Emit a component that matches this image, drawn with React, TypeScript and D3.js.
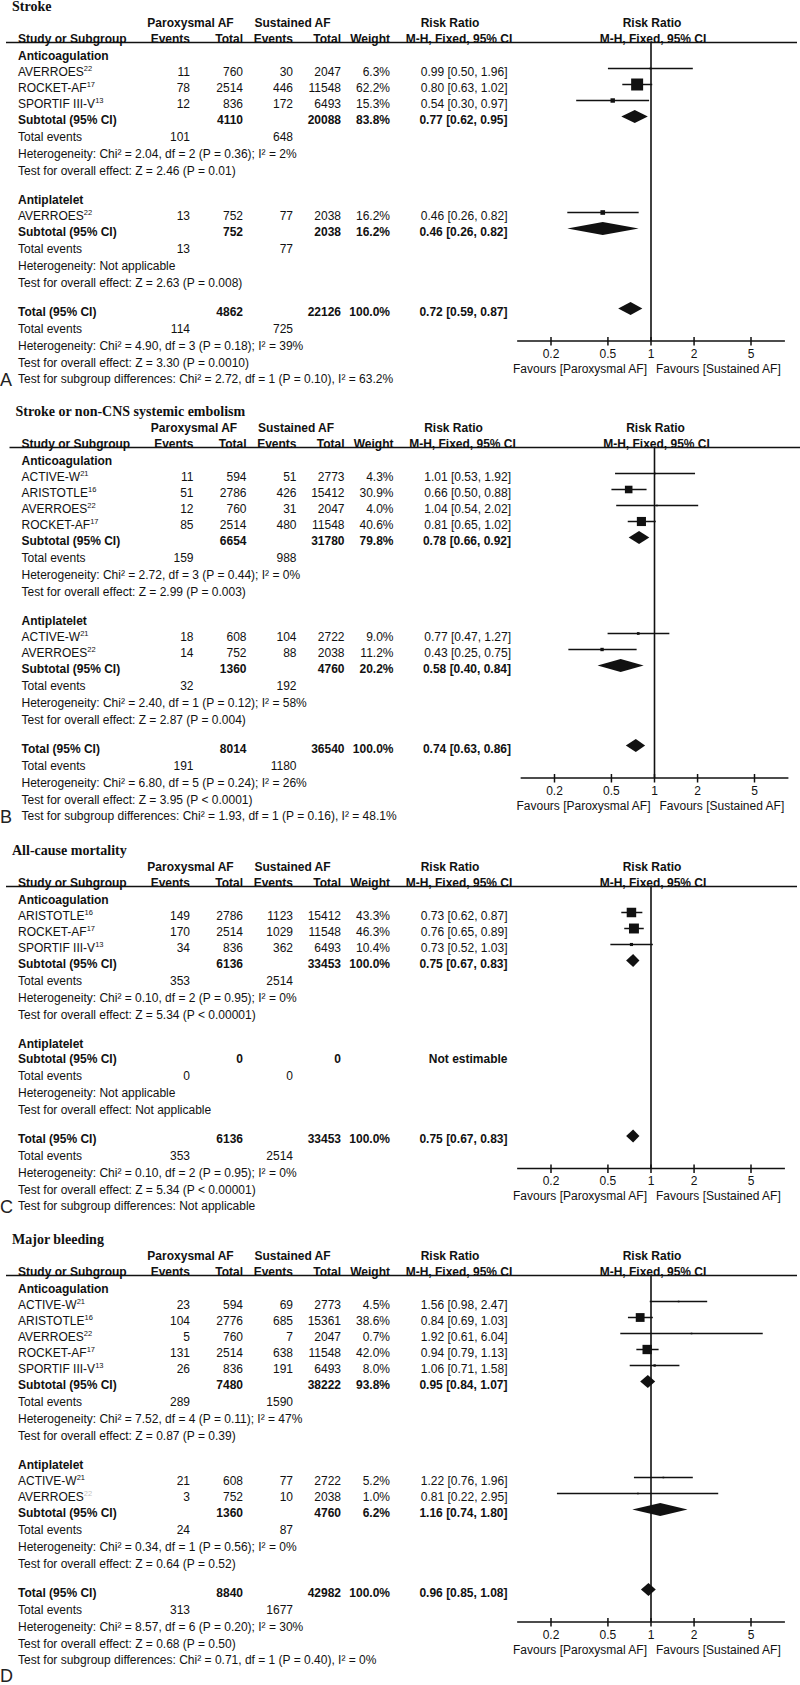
import React from "react";
import * as d3 from "d3";

type Study = { name: string; ref: string; e1: number; n1: number; e2: number; n2: number; w: number; rr: number; lo: number; hi: number; faintRef?: boolean };
type Sub = { n1: number; n2: number; w: number | null; rr: number | null; lo: number | null; hi: number | null; te1: number; te2: number; het: string; test: string };

// ---------- Panel A: Stroke ----------
const strokeAnticoag: Study[] = [
  { name: "AVERROES", ref: "22", e1: 11, n1: 760, e2: 30, n2: 2047, w: 6.3, rr: 0.99, lo: 0.5, hi: 1.96 },
  { name: "ROCKET-AF", ref: "17", e1: 78, n1: 2514, e2: 446, n2: 11548, w: 62.2, rr: 0.8, lo: 0.63, hi: 1.02 },
  { name: "SPORTIF III-V", ref: "13", e1: 12, n1: 836, e2: 172, n2: 6493, w: 15.3, rr: 0.54, lo: 0.3, hi: 0.97 },
];
const strokeAnticoagSub: Sub = { n1: 4110, n2: 20088, w: 83.8, rr: 0.77, lo: 0.62, hi: 0.95, te1: 101, te2: 648,
  het: "Heterogeneity: Chi² = 2.04, df = 2 (P = 0.36); I² = 2%", test: "Test for overall effect: Z = 2.46 (P = 0.01)" };
const strokeAntiplatelet: Study[] = [
  { name: "AVERROES", ref: "22", e1: 13, n1: 752, e2: 77, n2: 2038, w: 16.2, rr: 0.46, lo: 0.26, hi: 0.82 },
];
const strokeAntiplateletSub: Sub = { n1: 752, n2: 2038, w: 16.2, rr: 0.46, lo: 0.26, hi: 0.82, te1: 13, te2: 77,
  het: "Heterogeneity: Not applicable", test: "Test for overall effect: Z = 2.63 (P = 0.008)" };
const strokeTotal: Sub = { n1: 4862, n2: 22126, w: 100.0, rr: 0.72, lo: 0.59, hi: 0.87, te1: 114, te2: 725,
  het: "Heterogeneity: Chi² = 4.90, df = 3 (P = 0.18); I² = 39%", test: "Test for overall effect: Z = 3.30 (P = 0.0010)" };
const strokeSubgroupTest = "Test for subgroup differences: Chi² = 2.72, df = 1 (P = 0.10), I² = 63.2%";

// ---------- Panel B: Stroke or non-CNS systemic embolism ----------
const embolAnticoag: Study[] = [
  { name: "ACTIVE-W", ref: "21", e1: 11, n1: 594, e2: 51, n2: 2773, w: 4.3, rr: 1.01, lo: 0.53, hi: 1.92 },
  { name: "ARISTOTLE", ref: "16", e1: 51, n1: 2786, e2: 426, n2: 15412, w: 30.9, rr: 0.66, lo: 0.5, hi: 0.88 },
  { name: "AVERROES", ref: "22", e1: 12, n1: 760, e2: 31, n2: 2047, w: 4.0, rr: 1.04, lo: 0.54, hi: 2.02 },
  { name: "ROCKET-AF", ref: "17", e1: 85, n1: 2514, e2: 480, n2: 11548, w: 40.6, rr: 0.81, lo: 0.65, hi: 1.02 },
];
const embolAnticoagSub: Sub = { n1: 6654, n2: 31780, w: 79.8, rr: 0.78, lo: 0.66, hi: 0.92, te1: 159, te2: 988,
  het: "Heterogeneity: Chi² = 2.72, df = 3 (P = 0.44); I² = 0%", test: "Test for overall effect: Z = 2.99 (P = 0.003)" };
const embolAntiplatelet: Study[] = [
  { name: "ACTIVE-W", ref: "21", e1: 18, n1: 608, e2: 104, n2: 2722, w: 9.0, rr: 0.77, lo: 0.47, hi: 1.27 },
  { name: "AVERROES", ref: "22", e1: 14, n1: 752, e2: 88, n2: 2038, w: 11.2, rr: 0.43, lo: 0.25, hi: 0.75 },
];
const embolAntiplateletSub: Sub = { n1: 1360, n2: 4760, w: 20.2, rr: 0.58, lo: 0.4, hi: 0.84, te1: 32, te2: 192,
  het: "Heterogeneity: Chi² = 2.40, df = 1 (P = 0.12); I² = 58%", test: "Test for overall effect: Z = 2.87 (P = 0.004)" };
const embolTotal: Sub = { n1: 8014, n2: 36540, w: 100.0, rr: 0.74, lo: 0.63, hi: 0.86, te1: 191, te2: 1180,
  het: "Heterogeneity: Chi² = 6.80, df = 5 (P = 0.24); I² = 26%", test: "Test for overall effect: Z = 3.95 (P < 0.0001)" };
const embolSubgroupTest = "Test for subgroup differences: Chi² = 1.93, df = 1 (P = 0.16), I² = 48.1%";

// ---------- Panel C: All-cause mortality ----------
const mortAnticoag: Study[] = [
  { name: "ARISTOTLE", ref: "16", e1: 149, n1: 2786, e2: 1123, n2: 15412, w: 43.3, rr: 0.73, lo: 0.62, hi: 0.87 },
  { name: "ROCKET-AF", ref: "17", e1: 170, n1: 2514, e2: 1029, n2: 11548, w: 46.3, rr: 0.76, lo: 0.65, hi: 0.89 },
  { name: "SPORTIF III-V", ref: "13", e1: 34, n1: 836, e2: 362, n2: 6493, w: 10.4, rr: 0.73, lo: 0.52, hi: 1.03 },
];
const mortAnticoagSub: Sub = { n1: 6136, n2: 33453, w: 100.0, rr: 0.75, lo: 0.67, hi: 0.83, te1: 353, te2: 2514,
  het: "Heterogeneity: Chi² = 0.10, df = 2 (P = 0.95); I² = 0%", test: "Test for overall effect: Z = 5.34 (P < 0.00001)" };
const mortAntiplatelet: Study[] = [];
const mortAntiplateletSub: Sub = { n1: 0, n2: 0, w: null, rr: null, lo: null, hi: null, te1: 0, te2: 0,
  het: "Heterogeneity: Not applicable", test: "Test for overall effect: Not applicable" };
const mortTotal: Sub = { n1: 6136, n2: 33453, w: 100.0, rr: 0.75, lo: 0.67, hi: 0.83, te1: 353, te2: 2514,
  het: "Heterogeneity: Chi² = 0.10, df = 2 (P = 0.95); I² = 0%", test: "Test for overall effect: Z = 5.34 (P < 0.00001)" };
const mortSubgroupTest = "Test for subgroup differences: Not applicable";

// ---------- Panel D: Major bleeding ----------
const bleedAnticoag: Study[] = [
  { name: "ACTIVE-W", ref: "21", e1: 23, n1: 594, e2: 69, n2: 2773, w: 4.5, rr: 1.56, lo: 0.98, hi: 2.47 },
  { name: "ARISTOTLE", ref: "16", e1: 104, n1: 2776, e2: 685, n2: 15361, w: 38.6, rr: 0.84, lo: 0.69, hi: 1.03 },
  { name: "AVERROES", ref: "22", e1: 5, n1: 760, e2: 7, n2: 2047, w: 0.7, rr: 1.92, lo: 0.61, hi: 6.04 },
  { name: "ROCKET-AF", ref: "17", e1: 131, n1: 2514, e2: 638, n2: 11548, w: 42.0, rr: 0.94, lo: 0.79, hi: 1.13 },
  { name: "SPORTIF III-V", ref: "13", e1: 26, n1: 836, e2: 191, n2: 6493, w: 8.0, rr: 1.06, lo: 0.71, hi: 1.58 },
];
const bleedAnticoagSub: Sub = { n1: 7480, n2: 38222, w: 93.8, rr: 0.95, lo: 0.84, hi: 1.07, te1: 289, te2: 1590,
  het: "Heterogeneity: Chi² = 7.52, df = 4 (P = 0.11); I² = 47%", test: "Test for overall effect: Z = 0.87 (P = 0.39)" };
const bleedAntiplatelet: Study[] = [
  { name: "ACTIVE-W", ref: "21", e1: 21, n1: 608, e2: 77, n2: 2722, w: 5.2, rr: 1.22, lo: 0.76, hi: 1.96 },
  { name: "AVERROES", ref: "22", e1: 3, n1: 752, e2: 10, n2: 2038, w: 1.0, rr: 0.81, lo: 0.22, hi: 2.95, faintRef: true },
];
const bleedAntiplateletSub: Sub = { n1: 1360, n2: 4760, w: 6.2, rr: 1.16, lo: 0.74, hi: 1.8, te1: 24, te2: 87,
  het: "Heterogeneity: Chi² = 0.34, df = 1 (P = 0.56); I² = 0%", test: "Test for overall effect: Z = 0.64 (P = 0.52)" };
const bleedTotal: Sub = { n1: 8840, n2: 42982, w: 100.0, rr: 0.96, lo: 0.85, hi: 1.08, te1: 313, te2: 1677,
  het: "Heterogeneity: Chi² = 8.57, df = 6 (P = 0.20); I² = 30%", test: "Test for overall effect: Z = 0.68 (P = 0.50)" };
const bleedSubgroupTest = "Test for subgroup differences: Chi² = 0.71, df = 1 (P = 0.40), I² = 0%";

// ---------- Axis ----------
const axisTicks = [0.2, 0.5, 1, 2, 5];
const axisTickLabels = ["0.2", "0.5", "1", "2", "5"];
const axisExtent = [0.116, 8.63];
const favoursLeft = "Favours [Paroxysmal AF]";
const favoursRight = "Favours [Sustained AF]";

const panels = [
  { letter: "A", title: "Stroke", y0: 6, dx: 0, letterY: null as number | null,
    groups: [{ label: "Anticoagulation", studies: strokeAnticoag, sub: strokeAnticoagSub }, { label: "Antiplatelet", studies: strokeAntiplatelet, sub: strokeAntiplateletSub }],
    total: strokeTotal, subgroupTest: strokeSubgroupTest },
  { letter: "B", title: "Stroke or non-CNS systemic embolism", y0: 411, dx: 3.5, letterY: null,
    groups: [{ label: "Anticoagulation", studies: embolAnticoag, sub: embolAnticoagSub }, { label: "Antiplatelet", studies: embolAntiplatelet, sub: embolAntiplateletSub }],
    total: embolTotal, subgroupTest: embolSubgroupTest },
  { letter: "C", title: "All-cause mortality", y0: 850, dx: 0, letterY: null,
    groups: [{ label: "Anticoagulation", studies: mortAnticoag, sub: mortAnticoagSub }, { label: "Antiplatelet", studies: mortAntiplatelet, sub: mortAntiplateletSub }],
    total: mortTotal, subgroupTest: mortSubgroupTest },
  { letter: "D", title: "Major bleeding", y0: 1239, dx: 0, letterY: 1682,
    groups: [{ label: "Anticoagulation", studies: bleedAnticoag, sub: bleedAnticoagSub }, { label: "Antiplatelet", studies: bleedAntiplatelet, sub: bleedAntiplateletSub }],
    total: bleedTotal, subgroupTest: bleedSubgroupTest },
];

const INK = "#111";
const fmtRR = (rr: number, lo: number, hi: number) => `${rr.toFixed(2)} [${lo.toFixed(2)}, ${hi.toFixed(2)}]`;
const fmtW = (w: number) => `${w.toFixed(1)}%`;
const squareSide = (w: number) => Math.max(1.6, 1.9 * Math.sqrt(w) - 3);

function Panel({ p }: { p: (typeof panels)[number] }) {
  const dx = p.dx;
  const x = d3.scaleLog().domain([0.2, 5]).range([551 + dx, 751 + dx]);
  const col = { label: 18 + dx, e1: 190 + dx, n1: 243 + dx, e2: 293 + dx, n2: 341 + dx, w: 390 + dx, rr: 507.5 + dx };
  const B = 4; // baseline offset

  type Row = { kind: string; y: number; [k: string]: any };
  const rows: Row[] = [];
  let y = p.y0 + 49.5;
  p.groups.forEach((g, gi) => {
    if (gi > 0) y += 29;
    rows.push({ kind: "group", y, label: g.label });
    g.studies.forEach((s, si) => {
      y += si === 0 ? 16.5 : 16;
      rows.push({ kind: "study", y, s });
    });
    y += 15.5;
    rows.push({ kind: "sub", y, sub: g.sub, label: "Subtotal (95% CI)" });
    y += 17; rows.push({ kind: "te", y, a: g.sub.te1, b: g.sub.te2 });
    y += 17; rows.push({ kind: "info", y, text: g.sub.het });
    y += 17; rows.push({ kind: "info", y, text: g.sub.test });
  });
  y += 29;
  const totalY = y;
  rows.push({ kind: "sub", y, sub: p.total, label: "Total (95% CI)" });
  y += 17; rows.push({ kind: "te", y, a: p.total.te1, b: p.total.te2 });
  y += 17; rows.push({ kind: "info", y, text: p.total.het });
  y += 17; rows.push({ kind: "info", y, text: p.total.test });
  y += 16; rows.push({ kind: "info", y, text: p.subgroupTest });
  const subgroupY = y;
  const axisY = totalY + 29.5;
  const lineY = p.y0 + 36.5;
  const x1 = x(1);

  return (
    <g>
      <text x={12 + dx} y={p.y0 + 4.5} fontFamily="'Liberation Serif', 'Times New Roman', serif" fontWeight="bold" fontSize={14} fill={INK}>{p.title}</text>
      <g fontWeight="bold" fill={INK}>
        <text x={190.5 + dx} y={p.y0 + 17 + B} textAnchor="middle">Paroxysmal AF</text>
        <text x={292.5 + dx} y={p.y0 + 17 + B} textAnchor="middle">Sustained AF</text>
        <text x={450 + dx} y={p.y0 + 17 + B} textAnchor="middle">Risk Ratio</text>
        <text x={x1 + 1} y={p.y0 + 17 + B} textAnchor="middle">Risk Ratio</text>
        <text x={col.label} y={p.y0 + 33 + B}>Study or Subgroup</text>
        <text x={col.e1} y={p.y0 + 33 + B} textAnchor="end">Events</text>
        <text x={col.n1} y={p.y0 + 33 + B} textAnchor="end">Total</text>
        <text x={col.e2} y={p.y0 + 33 + B} textAnchor="end">Events</text>
        <text x={col.n2} y={p.y0 + 33 + B} textAnchor="end">Total</text>
        <text x={col.w} y={p.y0 + 33 + B} textAnchor="end">Weight</text>
        <text x={459 + dx} y={p.y0 + 33 + B} textAnchor="middle">M-H, Fixed, 95% CI</text>
        <text x={x1 + 2} y={p.y0 + 33 + B} textAnchor="middle">M-H, Fixed, 95% CI</text>
      </g>
      <line x1={6 + dx} x2={797 + dx} y1={lineY} y2={lineY} stroke={INK} strokeWidth={1.6} />
      <line x1={x1} x2={x1} y1={lineY} y2={axisY} stroke={INK} strokeWidth={1.6} />
      {rows.map((r, i) => {
        const ty = r.y + B;
        if (r.kind === "group") {
          return <text key={i} x={col.label} y={ty} fontWeight="bold" fill={INK}>{r.label}</text>;
        }
        if (r.kind === "info") {
          return <text key={i} x={col.label} y={ty} fill={INK}>{r.text}</text>;
        }
        if (r.kind === "te") {
          return (
            <g key={i} fill={INK}>
              <text x={col.label} y={ty}>Total events</text>
              <text x={col.e1} y={ty} textAnchor="end">{r.a}</text>
              <text x={col.e2} y={ty} textAnchor="end">{r.b}</text>
            </g>
          );
        }
        if (r.kind === "study") {
          const s: Study = r.s;
          const my = r.y - 3.5;
          const side = squareSide(s.w);
          return (
            <g key={i} fill={INK}>
              <text x={col.label} y={ty}>
                {s.name}
                <tspan dy={-5.5} fontSize={7.5} fill={s.faintRef ? "#c4c4c4" : INK}>{s.ref}</tspan>
              </text>
              <text x={col.e1} y={ty} textAnchor="end">{s.e1}</text>
              <text x={col.n1} y={ty} textAnchor="end">{s.n1}</text>
              <text x={col.e2} y={ty} textAnchor="end">{s.e2}</text>
              <text x={col.n2} y={ty} textAnchor="end">{s.n2}</text>
              <text x={col.w} y={ty} textAnchor="end">{fmtW(s.w)}</text>
              <text x={col.rr} y={ty} textAnchor="end">{fmtRR(s.rr, s.lo, s.hi)}</text>
              <line x1={x(s.lo)} x2={x(s.hi)} y1={my} y2={my} stroke={INK} strokeWidth={1.5} />
              <rect x={x(s.rr) - side / 2} y={my - side / 2} width={side} height={side} fill={INK} />
            </g>
          );
        }
        if (r.kind === "sub") {
          const s: Sub = r.sub;
          const dy = r.y - 3;
          const h = 6.5;
          return (
            <g key={i} fill={INK} fontWeight="bold">
              <text x={col.label} y={ty}>{r.label}</text>
              <text x={col.n1} y={ty} textAnchor="end">{s.n1}</text>
              <text x={col.n2} y={ty} textAnchor="end">{s.n2}</text>
              {s.w !== null && <text x={col.w} y={ty} textAnchor="end">{fmtW(s.w)}</text>}
              {s.rr !== null ? (
                <text x={col.rr} y={ty} textAnchor="end">{fmtRR(s.rr, s.lo as number, s.hi as number)}</text>
              ) : (
                <text x={col.rr} y={ty} textAnchor="end">Not estimable</text>
              )}
              {s.rr !== null && (
                <path
                  d={`M${x(s.lo as number)},${dy} L${x(s.rr)},${dy - h} L${x(s.hi as number)},${dy} L${x(s.rr)},${dy + h} Z`}
                  fill={INK}
                />
              )}
            </g>
          );
        }
        return null;
      })}
      <line x1={x(axisExtent[0])} x2={x(axisExtent[1])} y1={axisY} y2={axisY} stroke={INK} strokeWidth={1.7} />
      {axisTicks.map((t, i) => (
        <g key={t}>
          <line x1={x(t)} x2={x(t)} y1={axisY - 4} y2={axisY + 4.5} stroke={INK} strokeWidth={1.5} />
          <text x={x(t)} y={axisY + 16.5} textAnchor="middle" fill={INK}>{axisTickLabels[i]}</text>
        </g>
      ))}
      <text x={x1 - 4} y={axisY + 31.5} textAnchor="end" fill={INK}>{favoursLeft}</text>
      <text x={x1 + 5} y={axisY + 31.5} fill={INK}>{favoursRight}</text>
      <text x={0} y={p.letterY !== null ? p.letterY : subgroupY + 7} fontSize={18} fill="#222">{p.letter}</text>
    </g>
  );
}

export default function App() {
  return (
    <div style={{ position: "absolute", left: 0, top: 0 }}>
      <svg
        width={800}
        height={1685}
        style={{ display: "block", background: "#fff" }}
        fontFamily="'Liberation Sans', Arial, Helvetica, sans-serif"
        fontSize={12}
      >
        {panels.map((p) => (
          <Panel key={p.letter} p={p} />
        ))}
      </svg>
    </div>
  );
}
